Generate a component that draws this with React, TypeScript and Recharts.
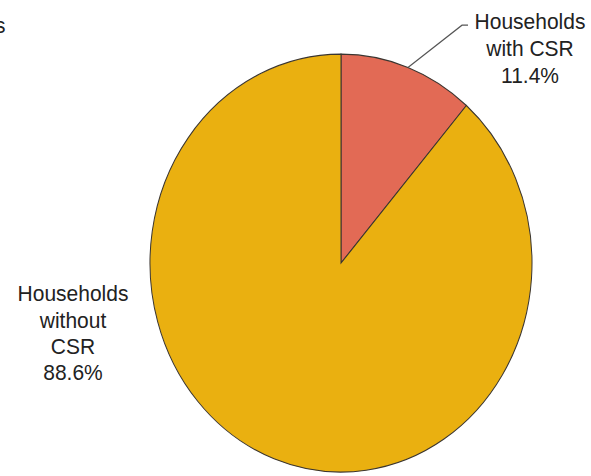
import { PieChart, Pie, Cell } from 'recharts';

// 数据
const categories = ['Households with CSR', 'Households without CSR'];
const shares = [11.4, 88.6];
const colors = ['#E26A55', '#EAB010'];

const data = categories.map((name, i) => ({ name, value: shares[i] }));

// the reference image is stretched vertically, so draw at a smaller height and scale
const W = 591;
const SY = 1.094;
const H = Math.round(476 / SY);

const textStyle = { fontFamily: 'Liberation Sans, Arial, sans-serif', fontSize: 21, fill: '#222' };

function renderLabel(props: any) {
  const { cx, cy, midAngle, outerRadius, index, value } = props;
  const rad = (Math.PI / 180) * midAngle;
  if (index === 0) {
    const sx = cx + outerRadius * Math.cos(rad);
    const sy = cy - outerRadius * Math.sin(rad);
    const ex = cx + 121;
    const ey = cy - 217.5;
    const tx = cx + 189;
    return (
      <g>
        <text x={-5} y={30} {...textStyle}>s</text>
        <polyline
          points={`${sx},${sy} ${ex},${ey} ${ex + 6},${ey}`}
          fill="none"
          stroke="#555"
          strokeWidth={1.2}
        />
        <text x={tx} y={cy - 214} textAnchor="middle" {...textStyle}>Households</text>
        <text x={tx} y={cy - 189} textAnchor="middle" {...textStyle}>with CSR</text>
        <text x={tx} y={cy - 165} textAnchor="middle" {...textStyle}>{`${value.toFixed(1)}%`}</text>
      </g>
    );
  }
  const tx = cx - 268;
  return (
    <g>
      <text x={tx} y={cy + 35} textAnchor="middle" {...textStyle}>Households</text>
      <text x={tx} y={cy + 59} textAnchor="middle" {...textStyle}>without</text>
      <text x={tx} y={cy + 83} textAnchor="middle" {...textStyle}>CSR</text>
      <text x={tx} y={cy + 107} textAnchor="middle" {...textStyle}>{`${value.toFixed(1)}%`}</text>
    </g>
  );
}

export default function App() {
  return (
    <div
      style={{
        position: 'absolute',
        left: 0,
        top: 0,
        width: W,
        height: H,
        background: '#fff',
        transform: `scaleY(${SY})`,
        transformOrigin: 'top left',
      }}
    >
      <PieChart width={W} height={H} margin={{ top: 0, right: 0, bottom: 0, left: 0 }}>
        <Pie
          data={data}
          dataKey="value"
          cx={341}
          cy={240.5}
          outerRadius={191}
          startAngle={90}
          endAngle={-270}
          stroke="#3a3530"
          strokeWidth={1}
          label={renderLabel}
          labelLine={false}
          isAnimationActive={false}
        >
          {data.map((d, i) => (
            <Cell key={d.name} fill={colors[i]} />
          ))}
        </Pie>
      </PieChart>
    </div>
  );
}
